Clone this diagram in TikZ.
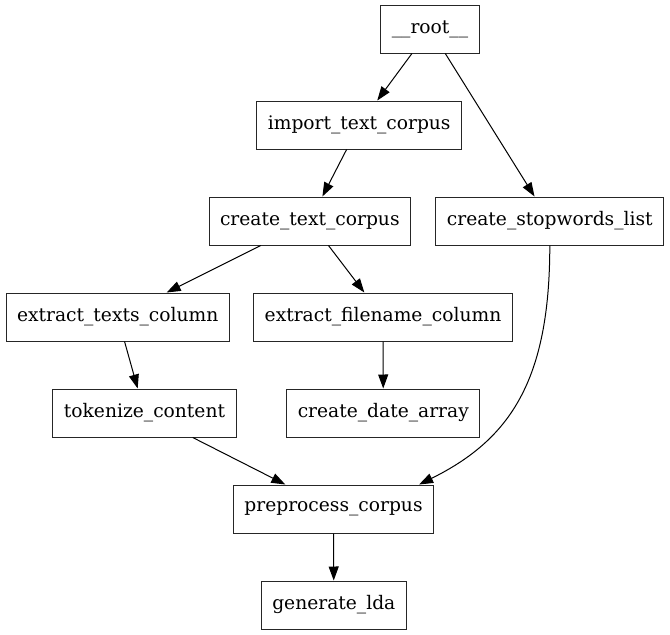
\documentclass[tikz,border=0pt]{standalone}
\usepackage{fontspec}
\setmainfont{DejaVu Serif}
\usetikzlibrary{arrows.meta}

\begin{document}
\begin{tikzpicture}[x=1pt, y=-1pt,
  task/.style={draw=black!85, line width=1pt, rectangle, minimum height=48pt,
               inner xsep=11pt, inner ysep=0pt, font=\fontsize{18.67}{22}\selectfont},
  dep/.style={-{Triangle[length=14pt,width=10pt]}, line width=1pt, draw=black}]
  \useasboundingbox (0,0) rectangle (670,635);

  \node[task] (root) at (430,29)    {\_\_root\_\_};
  \node[task] (imp)  at (359.2,125) {import\_text\_corpus};
  \node[task] (ctc)  at (309.8,221) {create\_text\_corpus};
  \node[task] (stop) at (549.8,221) {create\_stopwords\_list};
  \node[task] (etc)  at (117.7,317) {extract\_texts\_column};
  \node[task] (efc)  at (383,317)   {extract\_filename\_column};
  \node[task] (tok)  at (144.5,413) {tokenize\_content};
  \node[task] (cda)  at (383.3,413) {create\_date\_array};
  \node[task] (pre)  at (333.5,509) {preprocess\_corpus};
  \node[task] (lda)  at (333.8,605) {generate\_lda};

  \draw[dep] (root) -- (imp);
  \draw[dep] (root) -- (stop);
  \draw[dep] (imp) -- (ctc);
  \draw[dep] (ctc) -- (etc);
  \draw[dep] (ctc) -- (efc);
  \draw[dep] (etc) -- (tok);
  \draw[dep] (efc) -- (cda);
  \draw[dep] (tok) -- (pre);
  \draw[dep] (stop.south) .. controls +(0,135) and +(91,-45) .. ([xshift=-15pt]pre.north east);
  \draw[dep] (pre) -- (lda);
\end{tikzpicture}
\end{document}
